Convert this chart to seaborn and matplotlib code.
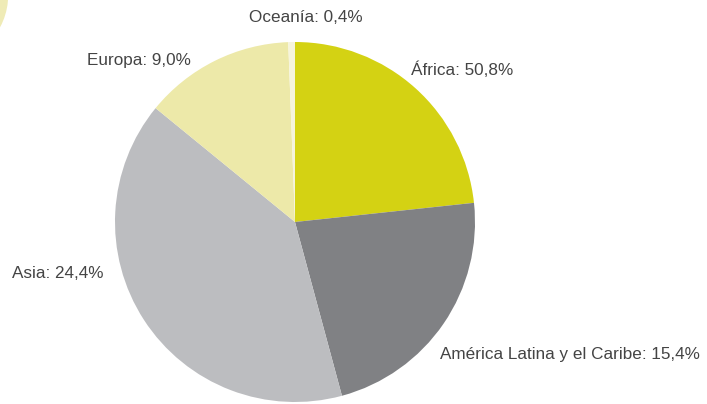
import matplotlib.pyplot as plt
import matplotlib.patches as patches
import seaborn as sns

# Region names and the shares printed in the labels
regions = ["África", "América Latina y el Caribe", "Asia", "Europa", "Oceanía"]
label_pct = ["50,8%", "15,4%", "24,4%", "9,0%", "0,4%"]
# Slice sizes as drawn in the reference (they do not follow the labels)
slice_share = [23.3, 22.5, 40.1, 13.5, 0.6]
colors = ["#d4d213", "#808184", "#bcbdc0", "#ede9a9", "#f6f4dc"]

# label anchor (pixel x, pixel y, ha)
label_pos = [
    (411, 70, "left"),
    (440, 355, "left"),
    (12, 273, "left"),
    (191, 61, "right"),
    (306, 17, "center"),
]

sns.set_theme(style="white")
plt.rcParams["font.family"] = ["Liberation Sans", "DejaVu Sans"]

W, H = 707, 404
fig = plt.figure(figsize=(W / 100, H / 100), dpi=100)
cx, cy, r = 295, 222, 180
ax = fig.add_axes([(cx - r) / W, (H - cy - r) / H, 2 * r / W, 2 * r / H])

ax.pie(slice_share, colors=colors, startangle=90, counterclock=False,
       radius=1, wedgeprops=dict(linewidth=0))
ax.set_xlim(-1, 1)
ax.set_ylim(-1, 1)
ax.set_aspect("equal")
ax.axis("off")

for name, pct, (px, py, ha) in zip(regions, label_pct, label_pos):
    ax.text((px - cx) / r, (cy - py) / r, f"{name}: {pct}", ha=ha, va="center",
            fontsize=12.3, color="#444444", clip_on=False)

# decorative circle fragment in the top-left corner (inches)
deco = patches.Circle((-0.60, H / 100 + 0.05), 0.682, transform=fig.dpi_scale_trans,
                      facecolor="#efebb6", edgecolor="none")
fig.patches.append(deco)

fig.savefig("out.png", dpi=100)
